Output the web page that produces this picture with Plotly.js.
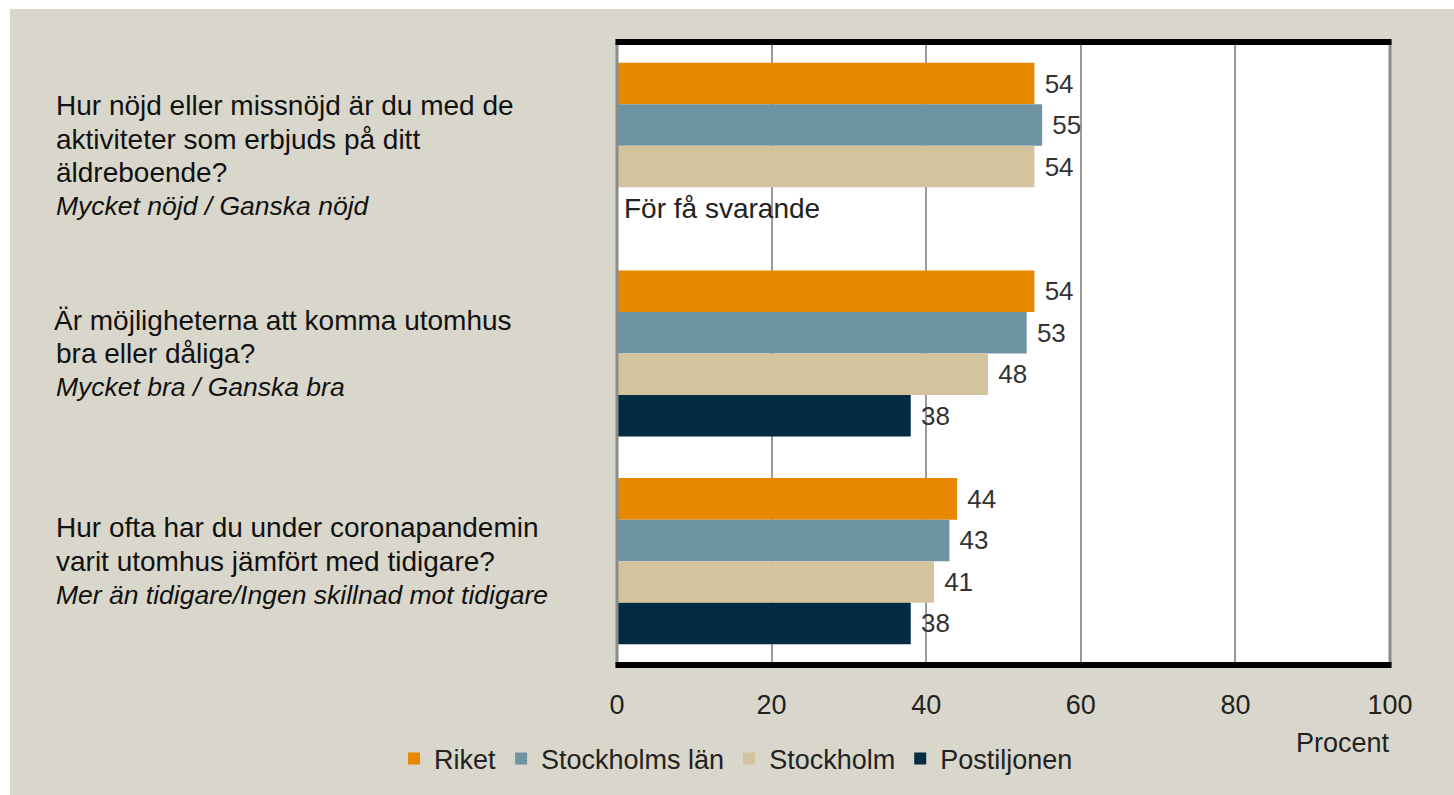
<!DOCTYPE html>
<html>
<head>
<meta charset="utf-8">
<script src="https://cdn.plot.ly/plotly-3.0.1.min.js"></script>
<style>
  html, body { margin: 0; padding: 0; background: #ffffff; }
  #chart { position: absolute; left: 10px; top: 9px; width: 1444px; height: 786px; }
</style>
</head>
<body>
<div id="chart"></div>
<script>
// ---- data ----
const categories = ["Q1", "Q2", "Q3"];
const questionLines = [
  ["Hur nöjd eller missnöjd är du med de", "aktiviteter som erbjuds på ditt", "äldreboende?"],
  ["Är möjligheterna att komma utomhus", "bra eller dåliga?"],
  ["Hur ofta har du under coronapandemin", "varit utomhus jämfört med tidigare?"]
];
const answerLabels = [
  "Mycket nöjd / Ganska nöjd",
  "Mycket bra / Ganska bra",
  "Mer än tidigare/Ingen skillnad mot tidigare"
];
const seriesNames = ["Riket", "Stockholms län", "Stockholm", "Postiljonen"];
const riket = [54, 54, 44];
const stockholmsLan = [55, 53, 43];
const stockholm = [54, 48, 41];
const postiljonen = [null, 38, 38];
const missingNote = "För få svarande";
const xTicks = [0, 20, 40, 60, 80, 100];
const xAxisTitle = "Procent";

// ---- styling ----
const colors = ["#e88800", "#6e93a3", "#d4c49d", "#032b43"];
const bg = "#d9d7cb";
const font = "Liberation Sans, Arial, sans-serif";
const values = [riket, stockholmsLan, stockholm, postiljonen];

const traces = seriesNames.map((name, i) => ({
  type: "bar",
  orientation: "h",
  name: name,
  y: categories,
  x: values[i],
  marker: { color: colors[i], line: { width: 0 } },
  texttemplate: "\u00a0%{x}",
  textposition: "outside",
  constraintext: "none",
  cliponaxis: false,
  textfont: { family: font, size: 26, color: "#333333" },
  hoverinfo: "skip"
}));

const annotations = [];
const lineStep = 33.5;
categories.forEach((cat, i) => {
  const lines = questionLines[i].map(t => ({ text: t, italic: false }))
    .concat([{ text: "<i>" + answerLabels[i] + "</i>", italic: true }]);
  const n = lines.length;
  const extra = i === 0 ? -10 : 0;
  lines.forEach((ln, k) => {
    annotations.push({
      xref: "paper", yref: "y",
      x: -0.7283, y: cat,
      xanchor: "left", yanchor: "middle", align: "left",
      yshift: -((k - (n - 1) / 2) * lineStep) + extra,
      xshift: (i === 1 && k === 0) ? -2 : 0,
      text: ln.text, showarrow: false,
      font: { family: font, size: ln.italic ? 26.5 : 28, color: "#111111" }
    });
  });
});
annotations.push({
  xref: "x", yref: "y", x: 0, y: categories[0],
  xanchor: "left", yanchor: "middle", xshift: 5, yshift: -63,
  text: missingNote, showarrow: false,
  font: { family: font, size: 28, color: "#222222" }
});
annotations.push({
  xref: "paper", yref: "paper", x: 1.003, y: -0.125,
  xanchor: "right", yanchor: "middle",
  text: xAxisTitle, showarrow: false,
  font: { family: font, size: 27, color: "#222222" }
});

const layout = {
  width: 1444, height: 786,
  paper_bgcolor: bg, plot_bgcolor: "#ffffff",
  margin: { l: 607, r: 64, t: 33, b: 130 },
  barmode: "group", bargap: 0.2, bargroupgap: 0,
  showlegend: true,
  legend: {
    orientation: "h", x: 0.154, xanchor: "center", y: -0.151, yanchor: "middle",
    bgcolor: "rgba(0,0,0,0)", traceorder: "normal",
    font: { family: font, size: 27, color: "#222222" }
  },
  xaxis: {
    range: [0, 100], tickvals: xTicks, ticktext: xTicks.map(String),
    showgrid: true, gridcolor: "#9a9a9a", gridwidth: 2,
    zeroline: false, showline: false, ticks: "",
    ticklabelstandoff: 21,
    tickfont: { family: font, size: 27, color: "#222222" },
    fixedrange: true
  },
  yaxis: {
    type: "category", categoryorder: "array", categoryarray: categories,
    range: [2.5, -0.5], showticklabels: false, showgrid: false,
    zeroline: false, showline: false, ticks: "", fixedrange: true
  },
  annotations: annotations,
  shapes: [
    { type: "line", xref: "paper", yref: "paper", x0: 0, x1: 0, y0: 0, y1: 1, line: { color: "#8c8c8c", width: 3 }, layer: "above" },
    { type: "line", xref: "paper", yref: "paper", x0: 1, x1: 1, y0: 0, y1: 1, line: { color: "#8c8c8c", width: 3 }, layer: "above" },
    { type: "line", xref: "paper", yref: "paper", x0: -0.002, x1: 1.002, y0: 1, y1: 1, line: { color: "#000000", width: 6 }, layer: "above" },
    { type: "line", xref: "paper", yref: "paper", x0: -0.002, x1: 1.002, y0: 0, y1: 0, line: { color: "#000000", width: 6 }, layer: "above" }
  ]
};

Plotly.newPlot("chart", traces, layout, { displayModeBar: false, staticPlot: true });
</script>
</body>
</html>
